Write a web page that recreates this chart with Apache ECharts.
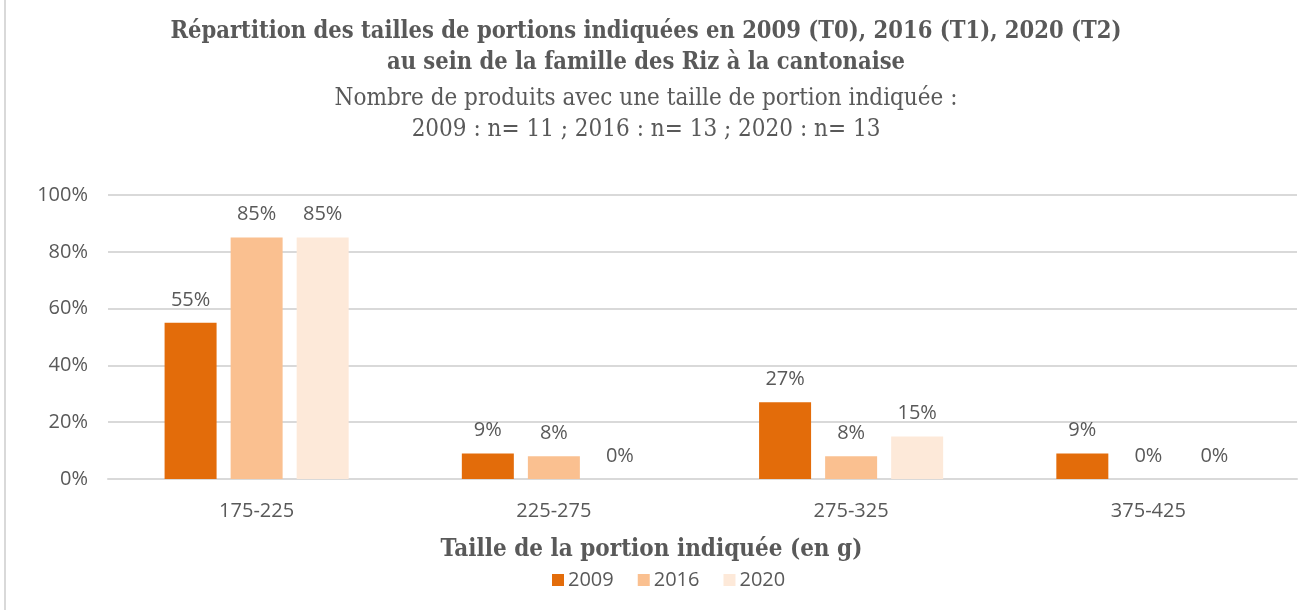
<!DOCTYPE html>
<html>
<head>
<meta charset="utf-8">
<script src="https://cdn.jsdelivr.net/npm/echarts@6/dist/echarts.min.js"></script>
<style>
  html, body { margin: 0; padding: 0; background: #ffffff; }
  #chart { width: 1304px; height: 610px; }
</style>
</head>
<body>
<div id="chart"></div>
<script>
// Portion-size classes (in g) and share of products per year, in %
const categories = ['175-225', '225-275', '275-325', '375-425'];
const years = ['2009', '2016', '2020'];
const values2009 = [55, 9, 27, 9];
const values2016 = [85, 8, 8, 0];
const values2020 = [85, 0, 15, 0];
const yTicks = [0, 20, 40, 60, 80, 100];

const colors = ['#E36C0A', '#FAC090', '#FDE9D9'];
const seriesValues = [values2009, values2016, values2020];

const gray = '#595959';
const serif = '"DejaVu Serif Condensed", "Liberation Serif", serif';
const sans = '"Open Sans", "Liberation Sans", sans-serif';

const chart = echarts.init(document.getElementById('chart'), null, { renderer: 'canvas' });

chart.setOption({
  animation: false,
  backgroundColor: '#ffffff',
  title: {
    left: 641,
    textAlign: 'center',
    top: 11,
    text: 'Répartition des tailles de portions indiquées en 2009 (T0), 2016 (T1), 2020 (T2)\nau sein de la famille des Riz à la cantonaise',
    subtext: 'Nombre de produits avec une taille de portion indiquée :\n2009 : n= 11 ; 2016 : n= 13 ; 2020 : n= 13',
    itemGap: 5,
    textStyle: { fontFamily: serif, fontWeight: 'bold', fontSize: 23.5, color: gray, lineHeight: 31 },
    subtextStyle: { fontFamily: serif, fontWeight: 'normal', fontSize: 24, color: gray, lineHeight: 31 }
  },
  legend: {
    top: 565,
    left: 547,
    itemWidth: 12,
    itemHeight: 12,
    itemGap: 24,
    icon: 'rect',
    textStyle: { fontFamily: sans, fontSize: 20, color: gray, padding: [0, 0, 0, -1] },
    data: years
  },
  grid: { left: 108, right: 7, top: 195, bottom: 131, containLabel: false },
  xAxis: {
    type: 'category',
    data: categories,
    name: 'Taille de la portion indiquée (en g)',
    nameLocation: 'middle',
    nameGap: 59,
    nameTextStyle: { fontFamily: serif, fontWeight: 'bold', fontSize: 24, color: gray, padding: [0, 102, 0, 0] },
    axisLine: { lineStyle: { color: '#D9D9D9', width: 2 } },
    axisTick: { show: false },
    axisLabel: { fontFamily: sans, fontSize: 20, color: gray, margin: 22 }
  },
  yAxis: {
    type: 'value',
    min: yTicks[0],
    max: yTicks[yTicks.length - 1],
    interval: yTicks[1] - yTicks[0],
    axisLine: { show: false },
    axisTick: { show: false },
    splitLine: { lineStyle: { color: '#D9D9D9', width: 2 } },
    axisLabel: { fontFamily: sans, fontSize: 20, color: gray, margin: 20, formatter: '{value}%' }
  },
  series: years.map((y, i) => ({
    name: y,
    type: 'bar',
    data: seriesValues[i],
    barWidth: 52,
    barGap: '27%',
    itemStyle: { color: colors[i] },
    label: {
      show: true,
      position: 'top',
      distance: 13,
      formatter: '{c}%',
      fontFamily: sans,
      fontSize: 20,
      color: gray
    }
  })),
  graphic: [{
    type: 'line',
    shape: { x1: 5, y1: 0, x2: 5, y2: 610 },
    style: { stroke: '#D9D9D9', lineWidth: 2 }
  }]
});
</script>
</body>
</html>
